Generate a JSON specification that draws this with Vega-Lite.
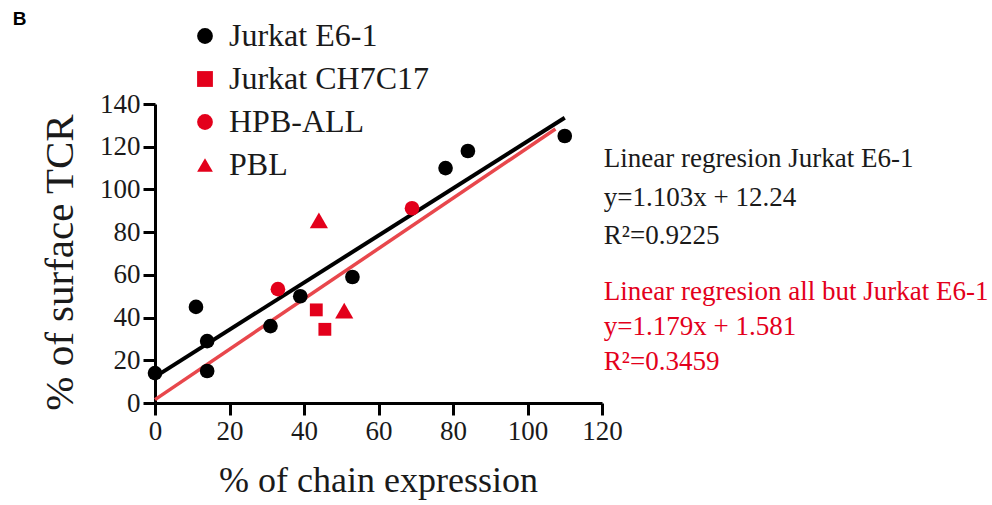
{
  "$schema": "https://vega.github.io/schema/vega-lite/v6.json",
  "width": 447,
  "height": 299,
  "autosize": {"type": "none"},
  "padding": {"left": 155, "top": 104, "right": 390, "bottom": 102},
  "background": "white",
  "config": {
    "view": {"stroke": null},
    "font": "Liberation Serif",
    "legend": {
      "title": null,
      "orient": "none",
      "legendX": 34,
      "legendY": -84,
      "padding": 0,
      "labelFont": "Liberation Serif",
      "labelFontSize": 32,
      "labelColor": "#1a1a1a",
      "labelOffset": 8,
      "labelLimit": 400,
      "symbolSize": 250,
      "symbolStrokeWidth": 0,
      "rowPadding": 11
    }
  },
  "datasets": {
    "points": [
      {"group": "Jurkat E6-1", "x": 0, "y": 14},
      {"group": "Jurkat E6-1", "x": 11, "y": 45},
      {"group": "Jurkat E6-1", "x": 14, "y": 29},
      {"group": "Jurkat E6-1", "x": 14, "y": 15},
      {"group": "Jurkat E6-1", "x": 31, "y": 36},
      {"group": "Jurkat E6-1", "x": 39, "y": 50},
      {"group": "Jurkat E6-1", "x": 53, "y": 59},
      {"group": "Jurkat E6-1", "x": 78, "y": 110},
      {"group": "Jurkat E6-1", "x": 84, "y": 118},
      {"group": "Jurkat E6-1", "x": 110, "y": 125},
      {"group": "Jurkat CH7C17", "x": 43.3, "y": 43.6},
      {"group": "Jurkat CH7C17", "x": 45.6, "y": 34.5},
      {"group": "HPB-ALL", "x": 33, "y": 53.3},
      {"group": "HPB-ALL", "x": 69, "y": 91.2},
      {"group": "PBL", "x": 44, "y": 85.5},
      {"group": "PBL", "x": 50.8, "y": 43.2}
    ],
    "fitE6": [
      {"x": 0, "y": 12.24},
      {"x": 110, "y": 133.57}
    ],
    "fitOthers": [
      {"x": 0, "y": 1.581},
      {"x": 107.5, "y": 128.3}
    ]
  },
  "layer": [
    {
      "data": {"name": "fitOthers"},
      "mark": {"type": "line", "color": "#e8474c", "strokeWidth": 3.5, "clip": false},
      "encoding": {
        "x": {
          "field": "x", "type": "quantitative",
          "scale": {"domain": [0, 120], "nice": false},
          "axis": {
            "title": "% of chain expression",
            "values": [0, 20, 40, 60, 80, 100, 120],
            "grid": false,
            "domainColor": "#000000", "domainWidth": 3,
            "tickColor": "#000000", "tickWidth": 3, "tickSize": 12,
            "labelFont": "Liberation Serif", "labelFontSize": 27, "labelColor": "#1a1a1a",
            "labelPadding": 3, "labelFlush": false, "labelOverlap": false,
            "titleFont": "Liberation Serif", "titleFontSize": 36, "titleFontWeight": "normal", "titleColor": "#1a1a1a",
            "titleX": 223, "titleY": 88, "titleBaseline": "alphabetic", "titleAnchor": "middle"
          }
        },
        "y": {
          "field": "y", "type": "quantitative",
          "scale": {"domain": [0, 140], "nice": false},
          "axis": {
            "title": "% of surface TCR",
            "values": [0, 20, 40, 60, 80, 100, 120, 140],
            "grid": false,
            "domainColor": "#000000", "domainWidth": 3,
            "tickColor": "#000000", "tickWidth": 3, "tickSize": 12,
            "labelFont": "Liberation Serif", "labelFontSize": 27, "labelColor": "#1a1a1a",
            "labelPadding": 3, "labelFlush": false, "labelOverlap": false,
            "titleFont": "Liberation Serif", "titleFontSize": 41, "titleFontWeight": "normal", "titleColor": "#1a1a1a",
            "titleX": -83, "titleY": 158, "titleAnchor": "middle", "titleBaseline": "alphabetic"
          }
        }
      }
    },
    {
      "data": {"name": "fitE6"},
      "mark": {"type": "line", "color": "#000000", "strokeWidth": 4, "clip": false},
      "encoding": {
        "x": {"field": "x", "type": "quantitative"},
        "y": {"field": "y", "type": "quantitative"}
      }
    },
    {
      "data": {"name": "points"},
      "transform": [{"filter": {"field": "group", "oneOf": ["Jurkat E6-1", "HPB-ALL"]}}],
      "mark": {"type": "point", "filled": true, "opacity": 1, "strokeWidth": 0, "size": 215, "clip": false},
      "encoding": {
        "x": {"field": "x", "type": "quantitative"},
        "y": {"field": "y", "type": "quantitative"},
        "shape": {
          "field": "group", "type": "nominal",
          "scale": {
            "domain": ["Jurkat E6-1", "Jurkat CH7C17", "HPB-ALL", "PBL"],
            "range": ["circle", "square", "circle", "triangle-up"]
          }
        },
        "color": {
          "field": "group", "type": "nominal",
          "scale": {
            "domain": ["Jurkat E6-1", "Jurkat CH7C17", "HPB-ALL", "PBL"],
            "range": ["#000000", "#e3001b", "#e3001b", "#e3001b"]
          }
        }
      }
    },
    {
      "data": {"name": "points"},
      "transform": [{"filter": {"field": "group", "equal": "Jurkat CH7C17"}}],
      "mark": {"type": "point", "filled": true, "opacity": 1, "strokeWidth": 0, "size": 165, "clip": false},
      "encoding": {
        "x": {"field": "x", "type": "quantitative"},
        "y": {"field": "y", "type": "quantitative"},
        "shape": {"field": "group", "type": "nominal"},
        "color": {"field": "group", "type": "nominal"}
      }
    },
    {
      "data": {"name": "points"},
      "transform": [{"filter": {"field": "group", "equal": "PBL"}}],
      "mark": {"type": "point", "filled": true, "opacity": 1, "strokeWidth": 0, "size": 330, "clip": false},
      "encoding": {
        "x": {"field": "x", "type": "quantitative"},
        "y": {"field": "y", "type": "quantitative"},
        "shape": {"field": "group", "type": "nominal"},
        "color": {"field": "group", "type": "nominal"}
      }
    },
    {
      "data": {"values": [{"block": "E6"}]},
      "mark": {
        "type": "text", "align": "left", "baseline": "middle",
        "font": "Liberation Serif", "fontSize": 27, "color": "#1a1a1a",
        "lineHeight": 38.5, "clip": false
      },
      "encoding": {
        "x": {"datum": 120.5, "type": "quantitative"},
        "y": {"datum": 114.1, "type": "quantitative"},
        "text": {"value": ["Linear regresion Jurkat E6-1", "y=1.103x + 12.24", "R²=0.9225"]}
      }
    },
    {
      "data": {"values": [{"block": "others"}]},
      "mark": {
        "type": "text", "align": "left", "baseline": "middle",
        "font": "Liberation Serif", "fontSize": 27, "color": "#e3001b",
        "lineHeight": 35, "clip": false
      },
      "encoding": {
        "x": {"datum": 120.5, "type": "quantitative"},
        "y": {"datum": 51.8, "type": "quantitative"},
        "text": {"value": ["Linear regresion all but Jurkat E6-1", "y=1.179x + 1.581", "R²=0.3459"]}
      }
    },
    {
      "data": {"values": [{"panel": "B"}]},
      "mark": {
        "type": "text", "align": "left", "baseline": "middle",
        "font": "Liberation Sans", "fontSize": 19, "fontWeight": "bold", "color": "#000000",
        "clip": false
      },
      "encoding": {
        "x": {"datum": -38.2, "type": "quantitative"},
        "y": {"datum": 179.9, "type": "quantitative"},
        "text": {"field": "panel", "type": "nominal"}
      }
    }
  ]
}
